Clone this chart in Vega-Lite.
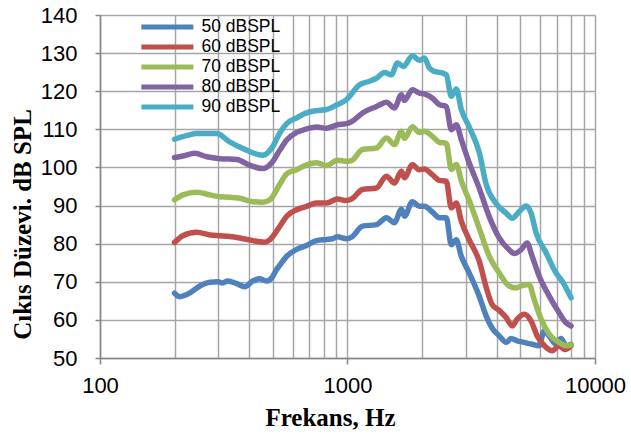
{
  "$schema": "https://vega.github.io/schema/vega-lite/v6.json",
  "width": 495,
  "height": 343,
  "autosize": {"type": "none"},
  "padding": {"left": 100, "top": 15, "right": 36, "bottom": 76},
  "background": "white",
  "config": {"view": {"stroke": null}},
  "datasets": {
    "curves": [
      {"f":200,"db":67.0,"s":"50 dBSPL"},{"f":210,"db":66.1,"s":"50 dBSPL"},{"f":231,"db":67.1,"s":"50 dBSPL"},{"f":253,"db":68.9,"s":"50 dBSPL"},{"f":278,"db":69.9,"s":"50 dBSPL"},{"f":299,"db":70.0,"s":"50 dBSPL"},{"f":313,"db":69.7,"s":"50 dBSPL"},{"f":328,"db":70.2,"s":"50 dBSPL"},{"f":357,"db":69.5,"s":"50 dBSPL"},{"f":384,"db":68.7,"s":"50 dBSPL"},{"f":414,"db":70.2,"s":"50 dBSPL"},{"f":442,"db":70.8,"s":"50 dBSPL"},{"f":471,"db":70.2,"s":"50 dBSPL"},{"f":494,"db":71.0,"s":"50 dBSPL"},{"f":517,"db":73.2,"s":"50 dBSPL"},{"f":532,"db":74.3,"s":"50 dBSPL"},{"f":568,"db":76.7,"s":"50 dBSPL"},{"f":623,"db":78.5,"s":"50 dBSPL"},{"f":683,"db":79.5,"s":"50 dBSPL"},{"f":750,"db":80.8,"s":"50 dBSPL"},{"f":823,"db":81.1,"s":"50 dBSPL"},{"f":870,"db":81.3,"s":"50 dBSPL"},{"f":911,"db":81.8,"s":"50 dBSPL"},{"f":991,"db":81.3,"s":"50 dBSPL"},{"f":1038,"db":81.7,"s":"50 dBSPL"},{"f":1150,"db":84.6,"s":"50 dBSPL"},{"f":1309,"db":85.0,"s":"50 dBSPL"},{"f":1437,"db":86.8,"s":"50 dBSPL"},{"f":1547,"db":85.5,"s":"50 dBSPL"},{"f":1651,"db":89.0,"s":"50 dBSPL"},{"f":1698,"db":87.2,"s":"50 dBSPL"},{"f":1829,"db":91.0,"s":"50 dBSPL"},{"f":1951,"db":89.8,"s":"50 dBSPL"},{"f":2044,"db":89.8,"s":"50 dBSPL"},{"f":2201,"db":88.3,"s":"50 dBSPL"},{"f":2350,"db":86.8,"s":"50 dBSPL"},{"f":2507,"db":86.8,"s":"50 dBSPL"},{"f":2627,"db":79.7,"s":"50 dBSPL"},{"f":2751,"db":81.0,"s":"50 dBSPL"},{"f":2883,"db":76.7,"s":"50 dBSPL"},{"f":3104,"db":72.3,"s":"50 dBSPL"},{"f":3407,"db":66.2,"s":"50 dBSPL"},{"f":3635,"db":61.0,"s":"50 dBSPL"},{"f":3843,"db":57.8,"s":"50 dBSPL"},{"f":4102,"db":55.8,"s":"50 dBSPL"},{"f":4377,"db":54.1,"s":"50 dBSPL"},{"f":4586,"db":55.1,"s":"50 dBSPL"},{"f":4848,"db":54.5,"s":"50 dBSPL"},{"f":5173,"db":54.1,"s":"50 dBSPL"},{"f":5572,"db":53.6,"s":"50 dBSPL"},{"f":5946,"db":53.2,"s":"50 dBSPL"},{"f":6229,"db":57.1,"s":"50 dBSPL"},{"f":6525,"db":55.8,"s":"50 dBSPL"},{"f":6963,"db":53.6,"s":"50 dBSPL"},{"f":7295,"db":55.1,"s":"50 dBSPL"},{"f":7639,"db":53.2,"s":"50 dBSPL"},{"f":8003,"db":53.6,"s":"50 dBSPL"},

      {"f":200,"db":80.3,"s":"60 dBSPL"},{"f":216,"db":82.1,"s":"60 dBSPL"},{"f":246,"db":83.0,"s":"60 dBSPL"},{"f":278,"db":82.3,"s":"60 dBSPL"},{"f":305,"db":82.1,"s":"60 dBSPL"},{"f":334,"db":81.9,"s":"60 dBSPL"},{"f":367,"db":81.5,"s":"60 dBSPL"},{"f":414,"db":80.8,"s":"60 dBSPL"},{"f":463,"db":80.4,"s":"60 dBSPL"},{"f":485,"db":81.0,"s":"60 dBSPL"},{"f":532,"db":84.5,"s":"60 dBSPL"},{"f":568,"db":87.2,"s":"60 dBSPL"},{"f":623,"db":88.9,"s":"60 dBSPL"},{"f":683,"db":89.8,"s":"60 dBSPL"},{"f":750,"db":90.7,"s":"60 dBSPL"},{"f":823,"db":90.7,"s":"60 dBSPL"},{"f":911,"db":91.7,"s":"60 dBSPL"},{"f":991,"db":91.3,"s":"60 dBSPL"},{"f":1038,"db":91.7,"s":"60 dBSPL"},{"f":1150,"db":94.2,"s":"60 dBSPL"},{"f":1309,"db":94.6,"s":"60 dBSPL"},{"f":1437,"db":97.7,"s":"60 dBSPL"},{"f":1547,"db":95.9,"s":"60 dBSPL"},{"f":1651,"db":99.0,"s":"60 dBSPL"},{"f":1698,"db":97.3,"s":"60 dBSPL"},{"f":1829,"db":100.7,"s":"60 dBSPL"},{"f":1951,"db":99.4,"s":"60 dBSPL"},{"f":2044,"db":99.6,"s":"60 dBSPL"},{"f":2201,"db":98.1,"s":"60 dBSPL"},{"f":2350,"db":96.6,"s":"60 dBSPL"},{"f":2507,"db":96.4,"s":"60 dBSPL"},{"f":2627,"db":89.4,"s":"60 dBSPL"},{"f":2751,"db":90.7,"s":"60 dBSPL"},{"f":2883,"db":85.9,"s":"60 dBSPL"},{"f":3104,"db":81.0,"s":"60 dBSPL"},{"f":3407,"db":75.4,"s":"60 dBSPL"},{"f":3635,"db":68.5,"s":"60 dBSPL"},{"f":3843,"db":64.0,"s":"60 dBSPL"},{"f":4102,"db":62.5,"s":"60 dBSPL"},{"f":4377,"db":60.6,"s":"60 dBSPL"},{"f":4628,"db":58.4,"s":"60 dBSPL"},{"f":4848,"db":60.2,"s":"60 dBSPL"},{"f":5173,"db":61.5,"s":"60 dBSPL"},{"f":5520,"db":59.7,"s":"60 dBSPL"},{"f":5838,"db":55.8,"s":"60 dBSPL"},{"f":6345,"db":52.8,"s":"60 dBSPL"},{"f":6709,"db":51.9,"s":"60 dBSPL"},{"f":7159,"db":53.2,"s":"60 dBSPL"},{"f":7568,"db":52.2,"s":"60 dBSPL"},{"f":8003,"db":53.2,"s":"60 dBSPL"},

      {"f":200,"db":91.5,"s":"70 dBSPL"},{"f":216,"db":92.8,"s":"70 dBSPL"},{"f":246,"db":93.5,"s":"70 dBSPL"},{"f":278,"db":92.8,"s":"70 dBSPL"},{"f":305,"db":92.3,"s":"70 dBSPL"},{"f":334,"db":92.2,"s":"70 dBSPL"},{"f":367,"db":91.9,"s":"70 dBSPL"},{"f":414,"db":91.0,"s":"70 dBSPL"},{"f":454,"db":90.9,"s":"70 dBSPL"},{"f":485,"db":91.5,"s":"70 dBSPL"},{"f":532,"db":95.5,"s":"70 dBSPL"},{"f":568,"db":98.3,"s":"70 dBSPL"},{"f":623,"db":99.4,"s":"70 dBSPL"},{"f":683,"db":100.7,"s":"70 dBSPL"},{"f":750,"db":101.2,"s":"70 dBSPL"},{"f":823,"db":100.5,"s":"70 dBSPL"},{"f":911,"db":101.9,"s":"70 dBSPL"},{"f":991,"db":101.6,"s":"70 dBSPL"},{"f":1038,"db":101.8,"s":"70 dBSPL"},{"f":1150,"db":104.7,"s":"70 dBSPL"},{"f":1309,"db":105.1,"s":"70 dBSPL"},{"f":1437,"db":107.7,"s":"70 dBSPL"},{"f":1547,"db":106.0,"s":"70 dBSPL"},{"f":1651,"db":109.5,"s":"70 dBSPL"},{"f":1698,"db":107.6,"s":"70 dBSPL"},{"f":1829,"db":110.7,"s":"70 dBSPL"},{"f":1951,"db":109.2,"s":"70 dBSPL"},{"f":2044,"db":109.5,"s":"70 dBSPL"},{"f":2201,"db":108.2,"s":"70 dBSPL"},{"f":2350,"db":106.6,"s":"70 dBSPL"},{"f":2507,"db":106.3,"s":"70 dBSPL"},{"f":2627,"db":99.5,"s":"70 dBSPL"},{"f":2751,"db":100.8,"s":"70 dBSPL"},{"f":2883,"db":96.5,"s":"70 dBSPL"},{"f":3104,"db":91.3,"s":"70 dBSPL"},{"f":3407,"db":84.0,"s":"70 dBSPL"},{"f":3738,"db":76.7,"s":"70 dBSPL"},{"f":4102,"db":72.3,"s":"70 dBSPL"},{"f":4501,"db":68.9,"s":"70 dBSPL"},{"f":4803,"db":68.4,"s":"70 dBSPL"},{"f":5078,"db":69.0,"s":"70 dBSPL"},{"f":5419,"db":69.3,"s":"70 dBSPL"},{"f":5676,"db":65.4,"s":"70 dBSPL"},{"f":6058,"db":60.2,"s":"70 dBSPL"},{"f":6525,"db":56.3,"s":"70 dBSPL"},{"f":7159,"db":54.1,"s":"70 dBSPL"},{"f":7639,"db":53.2,"s":"70 dBSPL"},{"f":8003,"db":53.4,"s":"70 dBSPL"},

      {"f":200,"db":102.6,"s":"80 dBSPL"},{"f":216,"db":103.0,"s":"80 dBSPL"},{"f":242,"db":103.7,"s":"80 dBSPL"},{"f":270,"db":102.8,"s":"80 dBSPL"},{"f":305,"db":102.3,"s":"80 dBSPL"},{"f":357,"db":102.1,"s":"80 dBSPL"},{"f":402,"db":100.6,"s":"80 dBSPL"},{"f":454,"db":99.7,"s":"80 dBSPL"},{"f":498,"db":101.5,"s":"80 dBSPL"},{"f":532,"db":104.5,"s":"80 dBSPL"},{"f":568,"db":107.2,"s":"80 dBSPL"},{"f":623,"db":109.2,"s":"80 dBSPL"},{"f":683,"db":110.1,"s":"80 dBSPL"},{"f":750,"db":110.6,"s":"80 dBSPL"},{"f":823,"db":110.3,"s":"80 dBSPL"},{"f":911,"db":111.2,"s":"80 dBSPL"},{"f":991,"db":111.5,"s":"80 dBSPL"},{"f":1038,"db":112.0,"s":"80 dBSPL"},{"f":1150,"db":114.3,"s":"80 dBSPL"},{"f":1309,"db":116.0,"s":"80 dBSPL"},{"f":1437,"db":117.1,"s":"80 dBSPL"},{"f":1547,"db":115.6,"s":"80 dBSPL"},{"f":1651,"db":119.1,"s":"80 dBSPL"},{"f":1698,"db":117.6,"s":"80 dBSPL"},{"f":1829,"db":120.4,"s":"80 dBSPL"},{"f":1951,"db":119.5,"s":"80 dBSPL"},{"f":2044,"db":119.3,"s":"80 dBSPL"},{"f":2201,"db":118.2,"s":"80 dBSPL"},{"f":2350,"db":116.5,"s":"80 dBSPL"},{"f":2507,"db":116.0,"s":"80 dBSPL"},{"f":2627,"db":109.9,"s":"80 dBSPL"},{"f":2751,"db":111.2,"s":"80 dBSPL"},{"f":2883,"db":107.3,"s":"80 dBSPL"},{"f":3104,"db":101.2,"s":"80 dBSPL"},{"f":3407,"db":94.5,"s":"80 dBSPL"},{"f":3738,"db":87.1,"s":"80 dBSPL"},{"f":4102,"db":81.5,"s":"80 dBSPL"},{"f":4501,"db":78.4,"s":"80 dBSPL"},{"f":4715,"db":77.4,"s":"80 dBSPL"},{"f":5031,"db":78.4,"s":"80 dBSPL"},{"f":5318,"db":80.2,"s":"80 dBSPL"},{"f":5572,"db":76.7,"s":"80 dBSPL"},{"f":5946,"db":71.5,"s":"80 dBSPL"},{"f":6525,"db":66.3,"s":"80 dBSPL"},{"f":7159,"db":61.9,"s":"80 dBSPL"},{"f":7568,"db":59.5,"s":"80 dBSPL"},{"f":8003,"db":58.4,"s":"80 dBSPL"},

      {"f":200,"db":107.4,"s":"90 dBSPL"},{"f":225,"db":108.4,"s":"90 dBSPL"},{"f":246,"db":108.9,"s":"90 dBSPL"},{"f":296,"db":108.9,"s":"90 dBSPL"},{"f":334,"db":106.7,"s":"90 dBSPL"},{"f":377,"db":105.0,"s":"90 dBSPL"},{"f":454,"db":103.2,"s":"90 dBSPL"},{"f":498,"db":105.4,"s":"90 dBSPL"},{"f":532,"db":109.0,"s":"90 dBSPL"},{"f":568,"db":111.5,"s":"90 dBSPL"},{"f":623,"db":113.0,"s":"90 dBSPL"},{"f":683,"db":114.3,"s":"90 dBSPL"},{"f":750,"db":114.9,"s":"90 dBSPL"},{"f":823,"db":115.2,"s":"90 dBSPL"},{"f":911,"db":116.5,"s":"90 dBSPL"},{"f":991,"db":117.8,"s":"90 dBSPL"},{"f":1118,"db":121.7,"s":"90 dBSPL"},{"f":1227,"db":122.6,"s":"90 dBSPL"},{"f":1309,"db":123.4,"s":"90 dBSPL"},{"f":1410,"db":124.9,"s":"90 dBSPL"},{"f":1505,"db":124.3,"s":"90 dBSPL"},{"f":1591,"db":127.4,"s":"90 dBSPL"},{"f":1682,"db":126.5,"s":"90 dBSPL"},{"f":1829,"db":129.3,"s":"90 dBSPL"},{"f":1951,"db":128.1,"s":"90 dBSPL"},{"f":2044,"db":128.7,"s":"90 dBSPL"},{"f":2141,"db":126.1,"s":"90 dBSPL"},{"f":2243,"db":125.2,"s":"90 dBSPL"},{"f":2416,"db":124.8,"s":"90 dBSPL"},{"f":2507,"db":124.3,"s":"90 dBSPL"},{"f":2627,"db":118.7,"s":"90 dBSPL"},{"f":2751,"db":120.6,"s":"90 dBSPL"},{"f":2883,"db":115.2,"s":"90 dBSPL"},{"f":3104,"db":110.6,"s":"90 dBSPL"},{"f":3407,"db":103.9,"s":"90 dBSPL"},{"f":3635,"db":95.5,"s":"90 dBSPL"},{"f":3988,"db":90.5,"s":"90 dBSPL"},{"f":4377,"db":88.0,"s":"90 dBSPL"},{"f":4628,"db":86.7,"s":"90 dBSPL"},{"f":4938,"db":88.4,"s":"90 dBSPL"},{"f":5271,"db":89.9,"s":"90 dBSPL"},{"f":5520,"db":88.0,"s":"90 dBSPL"},{"f":5784,"db":82.8,"s":"90 dBSPL"},{"f":6345,"db":77.6,"s":"90 dBSPL"},{"f":6963,"db":72.3,"s":"90 dBSPL"},{"f":7362,"db":70.2,"s":"90 dBSPL"},{"f":8003,"db":65.8,"s":"90 dBSPL"}
    ]
  },
  "data": {"name": "curves"},
  "mark": {"type": "line", "strokeWidth": 5.5, "interpolate": "monotone", "strokeCap": "round", "strokeJoin": "round"},
  "encoding": {
    "x": {
      "field": "f",
      "type": "quantitative",
      "scale": {"type": "log", "domain": [100, 10000], "nice": false},
      "axis": {
        "title": "Frekans, Hz",
        "values": [100,200,300,400,500,600,700,800,900,1000,2000,3000,4000,5000,6000,7000,8000,9000,10000],
        "format": "d",
        "labelExpr": "datum.value == 100 || datum.value == 1000 || datum.value == 10000 ? datum.label : ''",
        "labelOverlap": false,
        "labelFlush": false,
        "labelFont": "Liberation Sans",
        "labelFontSize": 22,
        "labelColor": "black",
        "labelPadding": 11,
        "grid": true,
        "gridColor": "#a6a6a6",
        "gridWidth": 1.5,
        "domainColor": "#868686",
        "domainWidth": 1.5,
        "tickColor": {"condition": {"test": "datum.value == 100 || datum.value == 1000 || datum.value == 10000", "value": "#868686"}, "value": "transparent"},
        "tickWidth": 1.5,
        "tickSize": 6,
        "titleFont": "Liberation Serif",
        "titleFontWeight": "bold",
        "titleFontSize": 25,
        "titleColor": "black",
        "titleX": 230,
        "titleY": 59,
        "titleBaseline": "middle",
        "titleAlign": "center"
      }
    },
    "y": {
      "field": "db",
      "type": "quantitative",
      "scale": {"domain": [50, 140], "nice": false, "zero": false},
      "axis": {
        "title": "Cıkıs Düzevi. dB SPL",
        "values": [50,60,70,80,90,100,110,120,130,140],
        "labelFont": "Liberation Sans",
        "labelFontSize": 22,
        "labelColor": "black",
        "labelPadding": 18,
        "grid": true,
        "gridColor": "#a6a6a6",
        "gridWidth": 1.5,
        "domainColor": "#868686",
        "domainWidth": 1.5,
        "tickColor": "#868686",
        "tickWidth": 1.5,
        "tickSize": 5,
        "titleFont": "Liberation Serif",
        "titleFontWeight": "bold",
        "titleFontSize": 25,
        "titleColor": "black",
        "titleAngle": 270,
        "titleX": -78,
        "titleY": 209,
        "titleBaseline": "middle",
        "titleAlign": "center"
      }
    },
    "color": {
      "field": "s",
      "type": "nominal",
      "scale": {
        "domain": ["50 dBSPL", "60 dBSPL", "70 dBSPL", "80 dBSPL", "90 dBSPL"],
        "range": ["#4F81BD", "#C0504D", "#9BBB59", "#8064A2", "#4BACC6"]
      },
      "legend": {
        "orient": "none",
        "legendX": 58.4,
        "legendY": 3,
        "title": null,
        "symbolType": "M-4.25,0H4.25",
        "symbolStrokeWidth": 5,
        "symbolSize": 150,
        "labelFont": "Liberation Sans",
        "labelFontSize": 17.5,
        "labelColor": "black",
        "labelOffset": 25,
        "rowPadding": 0,
        "padding": 0
      }
    }
  }
}
